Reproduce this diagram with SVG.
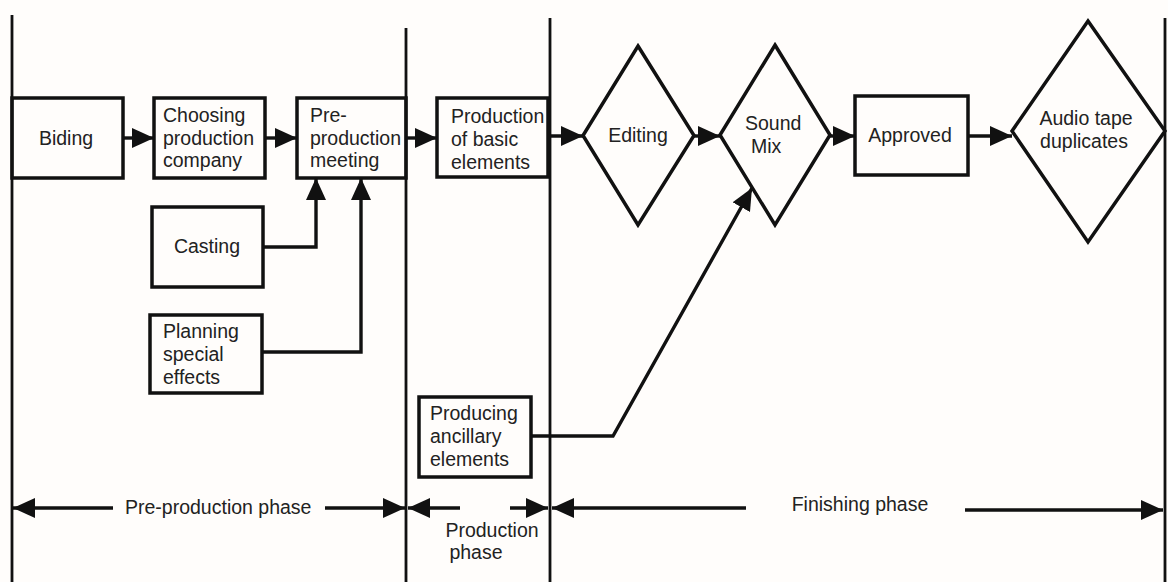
<svg xmlns="http://www.w3.org/2000/svg" width="1168" height="582" viewBox="0 0 1168 582">
<defs>
<marker id="ah" markerUnits="userSpaceOnUse" markerWidth="24" markerHeight="22" refX="22" refY="10" orient="auto"><path d="M0,0 L22,10 L0,20 z" fill="#111"/></marker>
<style>
.box{fill:none;stroke:#111;stroke-width:3.5}
.vl{stroke:#111;stroke-width:2.8;fill:none}
.cn{stroke:#111;stroke-width:3.4;fill:none}
text{font-family:"Liberation Sans",Arial,sans-serif;font-size:19.5px;fill:#222}
.c{text-anchor:middle}
</style>
</defs>
<rect width="1168" height="582" fill="#fffdfb"/>
<g id="phase-lines">
<line class="vl" x1="12" y1="15" x2="12" y2="582"/>
<line class="vl" x1="406" y1="28" x2="406" y2="582"/>
<line class="vl" x1="550" y1="18" x2="550" y2="582"/>
<line class="vl" x1="1165" y1="18" x2="1165" y2="582"/>
</g>
<g id="biding"><rect class="box" x="12" y="98" width="111" height="80"/><text class="c" x="66" y="145">Biding</text></g>
<g id="choosing"><rect class="box" x="154" y="98" width="111" height="80"/><text x="163" y="122">Choosing</text><text x="163" y="145">production</text><text x="163" y="167">company</text></g>
<g id="preprod"><rect class="box" x="297" y="98" width="109" height="80"/><text x="310" y="122">Pre-</text><text x="310" y="145">production</text><text x="310" y="167">meeting</text></g>
<g id="casting"><rect class="box" x="152" y="207" width="111" height="80"/><text class="c" x="207" y="253">Casting</text></g>
<g id="planning"><rect class="box" x="150" y="315" width="112" height="78"/><text x="163" y="338">Planning</text><text x="163" y="361">special</text><text x="163" y="384">effects</text></g>
<g id="production"><rect class="box" x="437" y="98" width="111" height="79"/><text x="451" y="123">Production</text><text x="451" y="146">of basic</text><text x="451" y="169">elements</text></g>
<g id="ancillary"><rect class="box" x="419" y="397" width="112" height="80"/><text x="430" y="420">Producing</text><text x="430" y="443">ancillary</text><text x="430" y="466">elements</text></g>
<g id="editing"><polygon class="box" points="638,46 694,135.5 638,225 583,135.5"/><text class="c" x="638" y="142">Editing</text></g>
<g id="soundmix"><polygon class="box" points="775,45 830,135 775,225 720,135"/><text x="745" y="130">Sound</text><text x="751" y="153">Mix</text></g>
<g id="approved"><rect class="box" x="855" y="96" width="113" height="79"/><text class="c" x="910" y="142">Approved</text></g>
<g id="audio"><polygon class="box" points="1088,21 1165,131 1088,242 1012,131"/><text class="c" x="1086" y="125">Audio tape</text><text class="c" x="1084" y="148">duplicates</text></g>
<g id="connectors">
<line class="cn" x1="123" y1="138" x2="154" y2="138" marker-end="url(#ah)"/>
<line class="cn" x1="265" y1="138" x2="297" y2="138" marker-end="url(#ah)"/>
<line class="cn" x1="406" y1="138" x2="437" y2="138" marker-end="url(#ah)"/>
<line class="cn" x1="550" y1="136" x2="583" y2="136" marker-end="url(#ah)"/>
<line class="cn" x1="694" y1="136" x2="720" y2="136" marker-end="url(#ah)"/>
<line class="cn" x1="830" y1="136" x2="855" y2="136" marker-end="url(#ah)"/>
<line class="cn" x1="968" y1="136" x2="1012" y2="136" marker-end="url(#ah)"/>
<polyline class="cn" points="263,247 316,247 316,178" marker-end="url(#ah)"/>
<polyline class="cn" points="262,352 361,352 361,178" marker-end="url(#ah)"/>
<polyline class="cn" points="531,436 613,436 752,188" marker-end="url(#ah)"/>
</g>
<g id="phase-arrows">
<line class="cn" x1="113" y1="508" x2="13" y2="508" marker-end="url(#ah)"/>
<line class="cn" x1="325" y1="508" x2="405" y2="508" marker-end="url(#ah)"/>
<text x="125" y="514">Pre-production phase</text>
<line class="cn" x1="460" y1="508" x2="408" y2="508" marker-end="url(#ah)"/>
<line class="cn" x1="510" y1="508" x2="548" y2="508" marker-end="url(#ah)"/>
<text class="c" x="492" y="537">Production</text>
<text class="c" x="476" y="559">phase</text>
<line class="cn" x1="746" y1="508" x2="552" y2="508" marker-end="url(#ah)"/>
<line class="cn" x1="965" y1="510" x2="1163" y2="510" marker-end="url(#ah)"/>
<text class="c" x="860" y="511">Finishing phase</text>
</g>
</svg>
